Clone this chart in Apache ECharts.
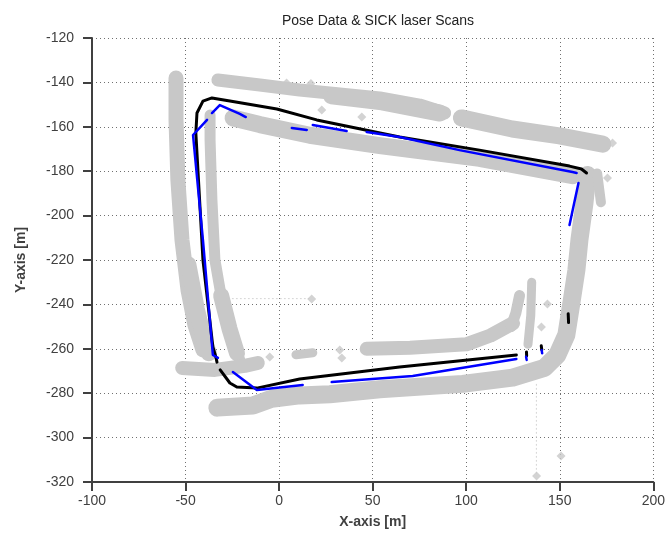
<!DOCTYPE html>
<html>
<head>
<meta charset="utf-8">
<script src="https://cdn.jsdelivr.net/npm/echarts@6/dist/echarts.min.js"></script>
<style>
html,body{margin:0;padding:0;background:#fff;}
#chart{width:668px;height:541px;}
</style>
</head>
<body>
<div id="chart"></div>
<script>
// ---- axes / text ----
const X_MIN = -100, X_MAX = 200, X_STEP = 50;
const Y_MIN = -320, Y_MAX = -120, Y_STEP = 20;
const titleText = 'Pose Data & SICK laser Scans';
const xName = 'X-axis [m]';
const yName = 'Y-axis [m]';

// ---- pose (black) ----
const posePath = [
  [126.8,-262.8],[64.4,-268.2],[11,-273.6],[-11.9,-277.7],[-22.6,-277.2],[-26.3,-275.4],[-31.5,-269.5],
  null,
  [-33.2,-266],[-33.8,-263.7],[-35.4,-259.2],[-40.7,-220],[-44.5,-162.8],[-43.9,-153.8],[-40.7,-148.4],
  [-35.9,-147],[-26.3,-148.4],[-1.2,-152],[20.1,-156.9],[64.4,-164.6],[107.1,-170.5],[155.2,-177.7],
  [161.6,-179],[164.3,-180.8]
];
const poseMarks = [
  [132.2,-261.4],[132.3,-263.2], null,
  [140.1,-258.6],[140.4,-260.4], null,
  [154.5,-244.2],[154.7,-248.2]
];

// ---- scan-matched path (blue) ----
const matchPath = [
  [126.8,-264.6],[71.4,-272.3],[28.1,-275], null,
  [12.6,-276.3],[-11.9,-278.6],[-24.7,-270.5], null,
  [-32.7,-264.1],[-35.4,-262.8],[-40.7,-211],[-46,-163.7],[-38.5,-156.9], null,
  [-35.9,-153.8],[-31.7,-150.2],[-21,-154.2],[-17.8,-155.6], null,
  [6.8,-160.5],[14.8,-161.4], null,
  [18,-159.2],[36.1,-161.9], null,
  [46.8,-162.3],[64.4,-164.6],[96.4,-170.5],[156.8,-180.4],[159,-180.8], null,
  [160,-185.3],[155.2,-204.2], null,
  [132.0,-263.6],[132.3,-265.0], null,
  [140.3,-260.6],[140.6,-262.0]
];

// ---- SICK laser scans (grey) ----
const scanLeftOuter = [[-55.1,-138],[-55.1,-156.9],[-54.1,-184],[-51.9,-211],[-48.7,-233.5],[-45,-249.3],[-40.7,-260.5]];
const scanLeftOuterLow = [[-48.5,-222],[-44,-242],[-40,-256],[-37.5,-262]];
const scanLeftInner = [[-36.9,-154.7],[-36.9,-165.9],[-35.9,-193],[-34.3,-220],[-30.6,-238],[-25.2,-256],[-21,-265]];
const scanLeftInnerLow = [[-31,-236],[-26.5,-251],[-22.5,-262]];
const scanBottomLink = [[-51.8,-268.6],[-34.3,-269.5],[-18.3,-267.7],[-11.4,-266.4]];
const scanOuterLoop = [
  [-33,-286.5],[-14,-285.5],[-4,-282.5],[11,-281],[27.1,-280.5],[53.8,-278.2],[98.1,-275.8],
  [124.8,-273],[141.8,-268.6],[148.7,-262.8],[153.5,-253.8],[156.2,-239.4],[158.9,-224.5],
  [160.5,-211],[163.2,-194.3],[164.8,-181.7]
];
const scanInnerBottom = [[46.8,-260],[70,-259.5],[100,-258],[113,-254],[125,-248.5]];
const scanInnerBottomBits = [[9,-262.7],[18,-261.8]];
const scanSpike = [[135,-230],[134.5,-245],[133,-258]];
const scanLobe = [[128.5,-236],[126.5,-244],[124,-250]];
const scanTopUpper = [[-32.7,-138.9],[-10.3,-141.2],[11,-143.4],[32.4,-145.2],[53.8,-147],[75.1,-150.2],[88.5,-153.8]];
const scanTopUpperWide = [[28,-146],[55,-148.8],[86,-153.8]];
const scanTopUpperRight = [[97.4,-156],[124.6,-161],[149.8,-164.1],[173,-167.8]];
const scanTopLower = [[-24.6,-156],[-10.3,-159],[16.4,-163.8],[53.8,-168.5],[107.1,-174.2],[156.8,-182]];
const scanRightBlob = [[170,-181],[172,-194]];
const scanTrail = [[137.5,-276],[137.5,-316]];
const scanTrail2 = [[-25,-237.4],[16,-237.4]];
const scanPoints = [
  [4,-140.3],[17,-140.5],[23.5,-144.2],[22.8,-152.4],[44.2,-155.6],[178.2,-167.3],[175.5,-183.1],
  [17.4,-237.6],[143.4,-239.8],[140.2,-250.2],[137.6,-317.3],[150.7,-308.3],
  [-5,-263.7],[32.4,-260.5],[33.5,-264.2]
];

// ---- styles ----
const GREY = '#c8c8c8';
const bandSpec = [
  [scanLeftOuter, 15], [scanLeftOuterLow, 16], [scanLeftInner, 11], [scanLeftInnerLow, 16],
  [scanBottomLink, 14], [scanOuterLoop, 18], [scanInnerBottom, 14], [scanInnerBottomBits, 9],
  [scanSpike, 9], [scanLobe, 11], [scanTopUpper, 13], [scanTopUpperWide, 17],
  [scanTopUpperRight, 17], [scanTopLower, 17], [scanRightBlob, 10]
];

function splitSegs(arr) {
  const segs = []; let cur = [];
  arr.forEach(p => { if (p === null) { if (cur.length) segs.push(cur); cur = []; } else cur.push(p); });
  if (cur.length) segs.push(cur);
  return segs;
}
function lineSeries(data, color, width, z, type) {
  return {
    type: 'line', data: data, showSymbol: false, symbol: 'none', silent: true, z: z,
    animation: false,
    lineStyle: { color: color, width: width, cap: 'round', join: 'round', type: type || 'solid' }
  };
}

const series = [];
bandSpec.forEach(([d, w]) => series.push(lineSeries(d, GREY, w, 1)));
series.push(lineSeries(scanTrail, '#d4d4d4', 1, 1, [1, 3]));
series.push(lineSeries(scanTrail2, '#d4d4d4', 1, 1, [1, 3]));
series.push({
  type: 'scatter', data: scanPoints, symbol: 'diamond', symbolSize: 9, silent: true, z: 1,
  itemStyle: { color: GREY }, animation: false
});
splitSegs(posePath).forEach(s => series.push(lineSeries(s, '#000000', 3, 3)));
splitSegs(poseMarks).forEach(s => series.push(lineSeries(s, '#000000', 3, 3)));
splitSegs(matchPath).forEach(s => series.push(lineSeries(s, '#0000ff', 2.5, 4)));

const axisColor = '#404040';
const gridLine = { show: true, lineStyle: { color: '#707070', width: 1, type: [1, 3] } };

const chart = echarts.init(document.getElementById('chart'), null, { renderer: 'canvas' });
chart.setOption({
  animation: false,
  backgroundColor: '#ffffff',
  title: {
    text: titleText, left: 373, top: 9, textAlign: 'center',
    textStyle: { fontFamily: 'Liberation Sans, Arial, sans-serif', fontSize: 14, fontWeight: 'normal', color: '#222' }
  },
  grid: { left: 92, right: 14, top: 38, bottom: 59, containLabel: false },
  xAxis: {
    type: 'value', min: X_MIN, max: X_MAX, interval: X_STEP,
    name: xName, nameLocation: 'middle', nameGap: 33,
    nameTextStyle: { fontFamily: 'Liberation Sans, Arial, sans-serif', fontSize: 14, fontWeight: 'bold', color: '#404040' },
    axisLine: { show: true, onZero: false, lineStyle: { color: axisColor, width: 2 } },
    axisTick: { show: true, inside: false, length: 9, lineStyle: { color: axisColor, width: 2 } },
    axisLabel: { margin: 12, fontFamily: 'Liberation Sans, Arial, sans-serif', fontSize: 14, color: '#404040' },
    splitLine: gridLine
  },
  yAxis: {
    type: 'value', min: Y_MIN, max: Y_MAX, interval: Y_STEP,
    name: yName, nameLocation: 'middle', nameGap: 64,
    nameTextStyle: { fontFamily: 'Liberation Sans, Arial, sans-serif', fontSize: 14, fontWeight: 'bold', color: '#404040' },
    axisLine: { show: true, onZero: false, lineStyle: { color: axisColor, width: 2 } },
    axisTick: { show: true, inside: false, length: 9, lineStyle: { color: axisColor, width: 2 } },
    axisLabel: { margin: 18, fontFamily: 'Liberation Sans, Arial, sans-serif', fontSize: 14, color: '#404040' },
    splitLine: gridLine
  },
  series: series
});
</script>
</body>
</html>
